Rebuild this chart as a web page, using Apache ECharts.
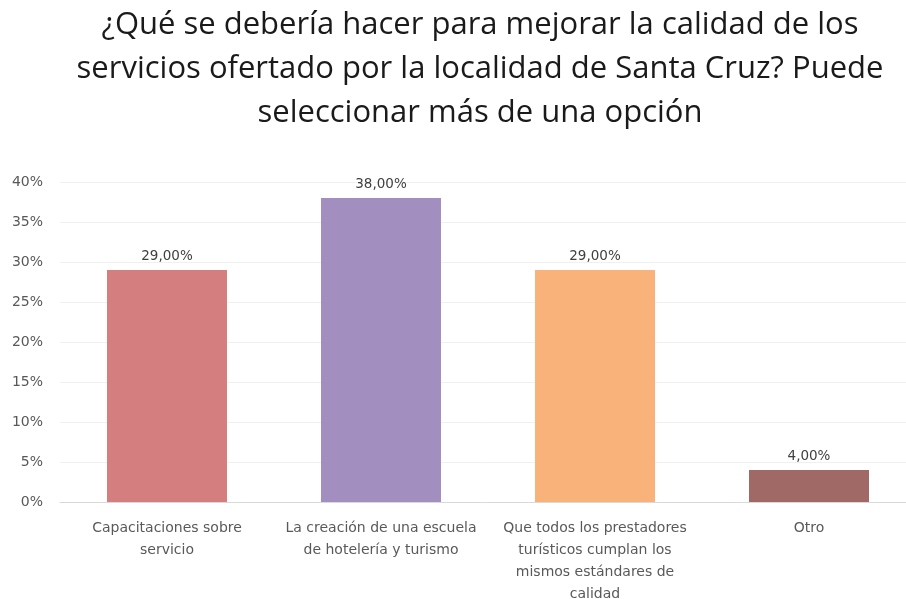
<!DOCTYPE html>
<html><head><meta charset="utf-8">
<script src="https://cdn.jsdelivr.net/npm/echarts@6/dist/echarts.min.js"></script>
<style>html,body{margin:0;padding:0;background:#fff}#c{width:906px;height:599px}</style>
</head><body><div id="c"></div>
<script>
const titleText = "¿Qué se debería hacer para mejorar la calidad de los\nservicios ofertado por la localidad de Santa Cruz? Puede\nseleccionar más de una opción";
const categories = [
  "Capacitaciones sobre\nservicio",
  "La creación de una escuela\nde hotelería y turismo",
  "Que todos los prestadores\nturísticos cumplan los\nmismos estándares de\ncalidad",
  "Otro"
];
const values = [29, 38, 29, 4];
const barColors = ["#D47E80", "#A28FBF", "#F8B27A", "#A06966"];
const yTicks = [0, 5, 10, 15, 20, 25, 30, 35, 40];

const chart = echarts.init(document.getElementById('c'), null, {renderer: 'canvas'});
chart.setOption({
  animation: false,
  title: {
    text: titleText,
    left: 475,
    textAlign: 'center',
    top: -2,
    textStyle: {fontFamily: 'Open Sans', fontSize: 31, fontWeight: 'normal', color: '#1a1a1a', lineHeight: 44}
  },
  grid: {left: 60, width: 856, top: 182, bottom: 97, containLabel: false, outerBoundsMode: 'none'},
  xAxis: {
    type: 'category',
    data: categories,
    axisTick: {show: false},
    axisLine: {lineStyle: {color: '#D9D9D9', width: 1}},
    axisLabel: {interval: 0, color: '#595959', fontFamily: 'DejaVu Sans', fontSize: 14, lineHeight: 21.7, margin: 16}
  },
  yAxis: {
    type: 'value',
    min: yTicks[0], max: yTicks[yTicks.length - 1], interval: 5,
    axisLine: {show: false},
    axisTick: {show: false},
    splitLine: {lineStyle: {color: '#F0F0F0', width: 1}},
    axisLabel: {formatter: v => v + '%', color: '#595959', fontFamily: 'DejaVu Sans', fontSize: 14, margin: 17}
  },
  series: [{
    type: 'bar',
    barWidth: 120,
    data: values.map((v, i) => ({value: v, itemStyle: {color: barColors[i]}})),
    label: {
      show: true, position: 'top', distance: 7,
      formatter: p => p.value.toFixed(2).replace('.', ',') + '%',
      color: '#404040', fontFamily: 'DejaVu Sans', fontSize: 13.5
    }
  }]
});
</script></body></html>
